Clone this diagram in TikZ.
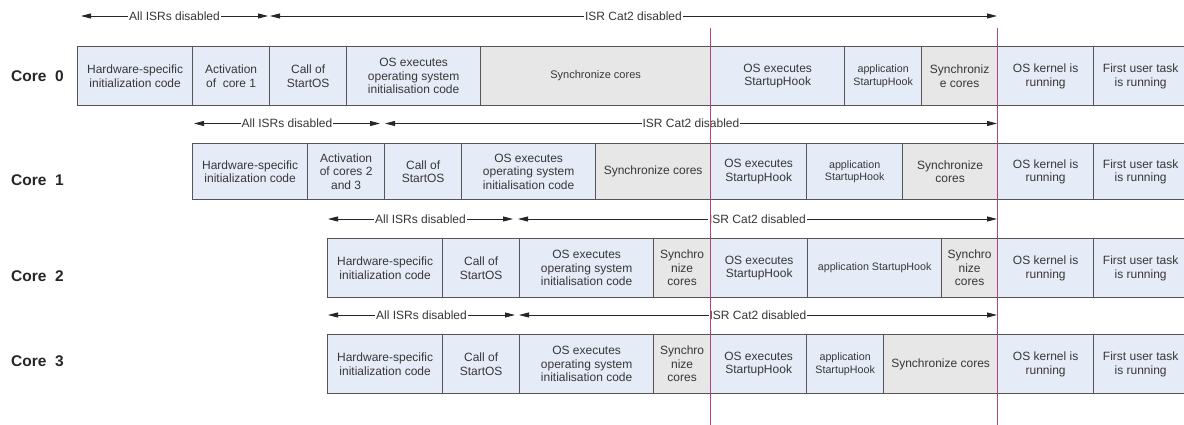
\documentclass[tikz,border=0pt]{standalone}
\usepackage{fontspec}
\setmainfont{Liberation Sans}
\usetikzlibrary{arrows.meta}
\definecolor{cellblue}{RGB}{230,236,247}
\definecolor{cellgray}{RGB}{231,231,231}
\definecolor{cellborder}{RGB}{85,85,85}
\definecolor{pinkline}{RGB}{176,70,118}
\definecolor{txt}{RGB}{55,55,55}
\newcommand\mycell[7]{%
  \node[cellbase,#6,minimum width={(#3-#2)*1pt},minimum height={(#5-#4)*1pt},anchor=north west] (#1) at (#2,#4) {#7};}
\begin{document}
\begin{tikzpicture}[x=1pt,y=-1pt,
  cellbase/.style={draw=cellborder,line width=1.3pt,inner sep=0pt,align=center,text=txt,font=\fontsize{12}{13.5}\selectfont},
  bluecell/.style={fill=cellblue},
  graycell/.style={fill=cellgray},
  smalltext/.style={font=\fontsize{10.7}{12.5}\selectfont},
  midtext/.style={font=\fontsize{11}{13}\selectfont},
  corelabel/.style={anchor=west,inner sep=0pt,font=\bfseries\fontsize{15.5}{18}\selectfont,text=black!85},
  isr/.style={draw=black!85,line width=0.9pt,{Triangle[length=10pt,width=5pt]}-{Triangle[length=10pt,width=5pt]}},
  isrlabel/.style={fill=white,inner sep=1pt,text=txt,font=\fontsize{12}{14}\selectfont},
  marker/.style={draw=pinkline,line width=0.85pt}]
\useasboundingbox (0,0) rectangle (1184,425);

% Core labels
\node[corelabel] (c0) at (11,76) {Core~~0};
\node[corelabel] (c1) at (11,180) {Core~~1};
\node[corelabel] (c2) at (11,276.5) {Core~~2};
\node[corelabel] (c3) at (11,361.5) {Core~~3};

% Row 0
\mycell{r0a}{77}{192}{46}{105}{bluecell}{Hardware-specific\\initialization code}
\mycell{r0b}{192}{269}{46}{105}{bluecell}{Activation\\of~~core 1}
\mycell{r0c}{269}{346}{46}{105}{bluecell}{Call of\\StartOS}
\mycell{r0d}{346}{480}{46}{105}{bluecell}{OS executes\\operating system\\initialisation code}
\mycell{r0e}{480}{710}{46}{105}{graycell,midtext}{Synchronize cores}
\mycell{r0f}{710}{844}{46}{105}{bluecell}{OS executes\\StartupHook}
\mycell{r0g}{844}{921}{46}{105}{bluecell,smalltext}{application\\StartupHook}
\mycell{r0h}{921}{997}{46}{105}{graycell}{Synchroniz\\e cores}
\mycell{r0i}{997}{1093}{46}{105}{bluecell}{OS kernel is\\running}
\mycell{r0j}{1093}{1187}{46}{105}{bluecell}{First user task\\is running}

% Row 1
\mycell{r1a}{192}{307}{143}{199}{bluecell}{Hardware-specific\\initialization code}
\mycell{r1b}{307}{384}{143}{199}{bluecell}{Activation\\of cores 2\\and 3}
\mycell{r1c}{384}{461}{143}{199}{bluecell}{Call of\\StartOS}
\mycell{r1d}{461}{595}{143}{199}{bluecell}{OS executes\\operating system\\initialisation code}
\mycell{r1e}{595}{710}{143}{199}{graycell}{Synchronize cores}
\mycell{r1f}{710}{806}{143}{199}{bluecell}{OS executes\\StartupHook}
\mycell{r1g}{806}{902}{143}{199}{bluecell,smalltext}{application\\StartupHook}
\mycell{r1h}{902}{997}{143}{199}{graycell}{Synchronize\\cores}
\mycell{r1i}{997}{1093}{143}{199}{bluecell}{OS kernel is\\running}
\mycell{r1j}{1093}{1187}{143}{199}{bluecell}{First user task\\is running}

% Row 2
\mycell{r2a}{327}{442}{238}{297}{bluecell}{Hardware-specific\\initialization code}
\mycell{r2b}{442}{519}{238}{297}{bluecell}{Call of\\StartOS}
\mycell{r2c}{519}{653}{238}{297}{bluecell}{OS executes\\operating system\\initialisation code}
\mycell{r2d}{653}{710}{238}{297}{graycell}{Synchro\\nize\\cores}
\mycell{r2e}{710}{807}{238}{297}{bluecell}{OS executes\\StartupHook}
\mycell{r2f}{807}{941}{238}{297}{bluecell,smalltext}{application StartupHook}
\mycell{r2g}{941}{997}{238}{297}{graycell}{Synchro\\nize\\cores}
\mycell{r2h}{997}{1093}{238}{297}{bluecell}{OS kernel is\\running}
\mycell{r2i}{1093}{1187}{238}{297}{bluecell}{First user task\\is running}

% Row 3
\mycell{r3a}{327}{442}{334}{393}{bluecell}{Hardware-specific\\initialization code}
\mycell{r3b}{442}{519}{334}{393}{bluecell}{Call of\\StartOS}
\mycell{r3c}{519}{653}{334}{393}{bluecell}{OS executes\\operating system\\initialisation code}
\mycell{r3d}{653}{710}{334}{393}{graycell}{Synchro\\nize\\cores}
\mycell{r3e}{710}{806}{334}{393}{bluecell}{OS executes\\StartupHook}
\mycell{r3f}{806}{883}{334}{393}{bluecell,smalltext}{application\\StartupHook}
\mycell{r3g}{883}{997}{334}{393}{graycell}{Synchronize cores}
\mycell{r3h}{997}{1093}{334}{393}{bluecell}{OS kernel is\\running}
\mycell{r3i}{1093}{1187}{334}{393}{bluecell}{First user task\\is running}

% ISR arrows
\coordinate (a0l) at (81,16);   \coordinate (a0r) at (268,16);
\coordinate (b0l) at (270,16);  \coordinate (b0r) at (997,16);
\coordinate (a1l) at (194,123.5); \coordinate (a1r) at (380,123.5);
\coordinate (b1l) at (385,123.5); \coordinate (b1r) at (997,123.5);
\coordinate (a2l) at (328,219); \coordinate (a2r) at (513,219);
\coordinate (b2l) at (518,219); \coordinate (b2r) at (997,219);
\coordinate (a3l) at (328,315); \coordinate (a3r) at (515,315);
\coordinate (b3l) at (519,315); \coordinate (b3r) at (997,315);

\draw[isr] (a0l) -- node[isrlabel] (la0) {All ISRs disabled} (a0r);
\draw[isr] (b0l) -- node[isrlabel] (lb0) {ISR Cat2 disabled} (b0r);
\draw[isr] (a1l) -- node[isrlabel] (la1) {All ISRs disabled} (a1r);
\draw[isr] (b1l) -- node[isrlabel] (lb1) {ISR Cat2 disabled} (b1r);
\draw[isr] (a2l) -- node[isrlabel] (la2) {All ISRs disabled} (a2r);
\draw[isr] (b2l) -- node[isrlabel] (lb2) {ISR Cat2 disabled} (b2r);
\draw[isr] (a3l) -- node[isrlabel] (la3) {All ISRs disabled} (a3r);
\draw[isr] (b3l) -- node[isrlabel] (lb3) {ISR Cat2 disabled} (b3r);

% Pink marker lines
\coordinate (m1t) at (710,28); \coordinate (m1b) at (710,425);
\coordinate (m2t) at (997,28); \coordinate (m2b) at (997,425);
\draw[marker] (m1t) -- (m1b);
\draw[marker] (m2t) -- (m2b);
\end{tikzpicture}
\end{document}
